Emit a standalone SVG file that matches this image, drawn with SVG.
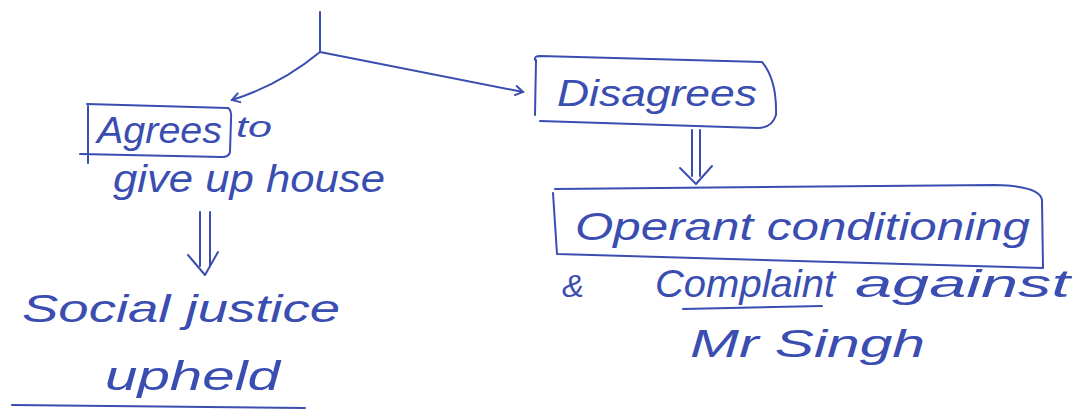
<svg xmlns="http://www.w3.org/2000/svg" width="1080" height="411" viewBox="0 0 1080 411">
<defs>
<style>
.ink{fill:none;stroke:#3a4db0;stroke-width:2;stroke-linecap:round;stroke-linejoin:round}
.t{fill:#3a4db0;font-family:"Liberation Sans",Arial,sans-serif;font-style:italic}
</style>
<marker id="ah" markerWidth="12" markerHeight="12" refX="10" refY="6" orient="auto" markerUnits="userSpaceOnUse">
<path d="M2,1 L10,6 L2,11" fill="none" stroke="#3a4db0" stroke-width="2"/>
</marker>
</defs>
<rect width="1080" height="411" fill="#ffffff"/>
<g id="connectors">
<path class="ink" d="M320,12 L320,52"/>
<path class="ink" d="M320,52 Q280,85 232,100" marker-end="url(#ah)"/>
<path class="ink" d="M320,52 L523,92" marker-end="url(#ah)"/>
<g id="dbl-left">
<path class="ink" d="M200,212 L200,266 M210,212 L210,266"/>
<path class="ink" d="M188,255 L205,275 L218,252"/>
</g>
<g id="dbl-right">
<path class="ink" d="M692,130 L692,176 M700,130 L700,176"/>
<path class="ink" d="M680,168 L696,184 L712,166"/>
</g>
</g>
<g id="agrees">
<path class="ink" d="M87,104 L228,108 Q232,110 231,120 L230,152 Q229,157 222,157 L80,154 M88,104 L88,163"/>
<text class="t" x="97" y="143" font-size="36" textLength="125" lengthAdjust="spacingAndGlyphs">Agrees</text>
<text class="t" x="236" y="137" font-size="30" textLength="36" lengthAdjust="spacingAndGlyphs">to</text>
<text class="t" x="113" y="192" font-size="38" textLength="272" lengthAdjust="spacingAndGlyphs">give up house</text>
</g>
<g id="social">
<text class="t" x="22" y="322" font-size="38" textLength="318" lengthAdjust="spacingAndGlyphs">Social justice</text>
<text class="t" x="105" y="390" font-size="40" textLength="175" lengthAdjust="spacingAndGlyphs">upheld</text>
<path class="ink" d="M12,405 L305,408"/>
</g>
<g id="disagrees">
<path class="ink" d="M535,60 Q534,56 540,56 L762,62 Q777,80 776,115 Q772,128 758,128 L540,121 M536,60 L535,115"/>
<text class="t" x="557" y="106" font-size="36" textLength="200" lengthAdjust="spacingAndGlyphs">Disagrees</text>
</g>
<g id="operant">
<path class="ink" d="M555,189 L995,185 Q1040,186 1042,200 L1043,268 L557,254 L553,193"/>
<text class="t" x="575" y="240" font-size="38" textLength="455" lengthAdjust="spacingAndGlyphs">Operant conditioning</text>
<text class="t" x="562" y="297" font-size="32" textLength="22" lengthAdjust="spacingAndGlyphs">&amp;</text>
<text class="t" x="655" y="297" font-size="38" textLength="180" lengthAdjust="spacingAndGlyphs">Complaint</text>
<text class="t" x="855" y="297" font-size="38" textLength="215" lengthAdjust="spacingAndGlyphs">against</text>
<path class="ink" d="M683,309 L822,306"/>
<text class="t" x="690" y="357" font-size="38" textLength="235" lengthAdjust="spacingAndGlyphs">Mr Singh</text>
</g>
</svg>
